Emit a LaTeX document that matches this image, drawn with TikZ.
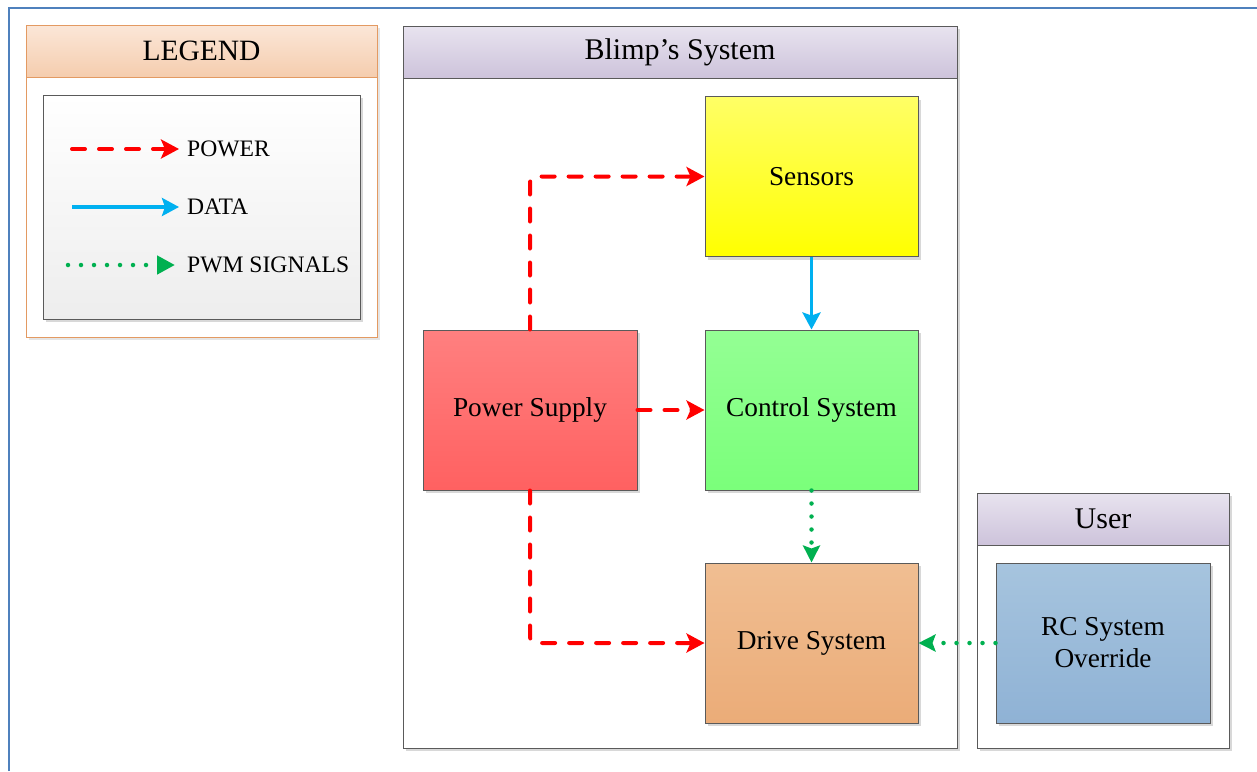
\documentclass[tikz,border=0pt]{standalone}
\usepackage{fontspec}
\setmainfont{Liberation Serif}
\usetikzlibrary{arrows.meta,shadows}
\definecolor{framebl}{HTML}{4F81BD}
\definecolor{boxline}{HTML}{5A5A5A}
\definecolor{pwrred}{HTML}{FF0000}
\definecolor{datablue}{HTML}{00B0F0}
\definecolor{pwmgreen}{HTML}{00B050}
\definecolor{legline}{HTML}{E39A62}
\definecolor{hdtop}{RGB}{232,227,239}
\definecolor{hdbot}{RGB}{205,195,219}
\definecolor{lgtop}{RGB}{251,231,216}
\definecolor{lgbot}{RGB}{245,205,174}
\begin{document}
\begin{tikzpicture}[x=1pt,y=-1pt,
  shd/.style={drop shadow={shadow xshift=3pt,shadow yshift=-3pt,fill=black!30,opacity=0.5}},
  blockbox/.style={draw=boxline,line width=1pt,inner sep=0pt,minimum width=213pt,minimum height=160pt,
     font=\fontsize{27.3}{32}\selectfont,align=center,shd},
  container/.style={draw=boxline,line width=1pt,fill=white,inner sep=0pt,shd},
  header/.style={draw=boxline,line width=1pt,inner sep=0pt,minimum height=52pt,
     top color=hdtop,bottom color=hdbot,font=\fontsize{30}{34}\selectfont},
  legtext/.style={anchor=west,inner sep=0pt,font=\fontsize{23.6}{28}\selectfont},
  powerln/.style={draw=pwrred,line width=4pt,dash pattern=on 13pt off 14pt,line cap=round,
     -{Stealth[length=18pt,width=19pt,inset=4pt]}},
  dataln/.style={draw=datablue,line width=3.5pt,-{Stealth[length=17pt,width=18pt,inset=3pt]}},
  pwmln/.style={draw=pwmgreen,line width=4.5pt,dash pattern=on 0pt off 13pt,line cap=round,
     -{Stealth[length=17pt,width=17pt,inset=3pt]}},
  pwmleg/.style={draw=pwmgreen,line width=4.5pt,dash pattern=on 0pt off 13pt,line cap=round,
     -{Triangle[length=18pt,width=18pt]}}
]
\useasboundingbox (0,0) rectangle (1257,771);
% outer frame
\coordinate (fa) at (9,771);
\coordinate (fb) at (9,8);
\coordinate (fc) at (1257,8);
\draw[framebl,line width=2pt] (fa) -- (fb) -- (fc);

% legend
\node[draw=legline,line width=1pt,fill=white,inner sep=0pt,minimum width=351pt,minimum height=312pt,
  drop shadow={shadow xshift=3pt,shadow yshift=-3pt,fill=black!25,opacity=0.4}] (legend) at (201.5,181) {};
\node[draw=legline,line width=1pt,inner sep=0pt,minimum width=351pt,minimum height=52pt,
  top color=lgtop,bottom color=lgbot,font=\fontsize{29.5}{34}\selectfont] (leghead) at (201.5,51) {LEGEND};
\node[draw=boxline,line width=1pt,inner sep=0pt,minimum width=317pt,minimum height=224pt,
  top color=white,bottom color=black!7,shd] (leginner) at (201.5,207) {};
\coordinate (pa) at (72,149); \coordinate (pb) at (179,149);
\coordinate (da) at (72,207); \coordinate (db) at (179,207);
\coordinate (ga) at (68,265); \coordinate (gb) at (175,265);
\draw[powerln] (pa) -- (pb);
\draw[dataln] (da) -- (db);
\draw[pwmleg] (ga) -- (gb);
\node[legtext] (lp) at (187,149) {POWER};
\node[legtext] (ld) at (187,207) {DATA};
\node[legtext] (lg) at (187,265) {PWM SIGNALS};

% blimp's system
\node[container,minimum width=554pt,minimum height=722pt] (blimp) at (680,387) {};
\node[header,minimum width=554pt] (blimphead) at (680,52) {Blimp’s System};

% user
\node[container,minimum width=252pt,minimum height=255pt] (user) at (1103,620.5) {};
\node[header,minimum width=252pt] (userhead) at (1103,519) {User};

% blocks
\node[blockbox,top color=yellow!60!white,bottom color=yellow] (sens) at (811.5,176.5) {Sensors};
\node[blockbox,top color=green!42!white,bottom color=green!52!white] (ctrl) at (811.5,410) {Control System};
\node[blockbox,minimum width=214pt,top color=red!50!white,bottom color=red!62!white] (pwr) at (530,410) {Power Supply};
\node[blockbox,top color={rgb,255:red,240;green,190;blue,146},bottom color={rgb,255:red,235;green,172;blue,120}] (drive) at (811.5,643) {Drive System};
\node[blockbox,minimum width=214pt,top color={rgb,255:red,166;green,196;blue,222},bottom color={rgb,255:red,143;green,178;blue,213}] (rc) at (1103,643) {RC System\\Override};

% connectors
\draw[powerln,rounded corners=6pt] (pwr.north) |- (sens.west);
\draw[powerln] (pwr.east) -- (ctrl.west);
\draw[powerln,rounded corners=6pt] (pwr.south) |- (drive.west);
\draw[dataln] (sens.south) -- (ctrl.north);
\draw[pwmln] (ctrl.south) -- (drive.north);
\draw[pwmln] (rc.west) -- (drive.east);
\end{tikzpicture}
\end{document}
